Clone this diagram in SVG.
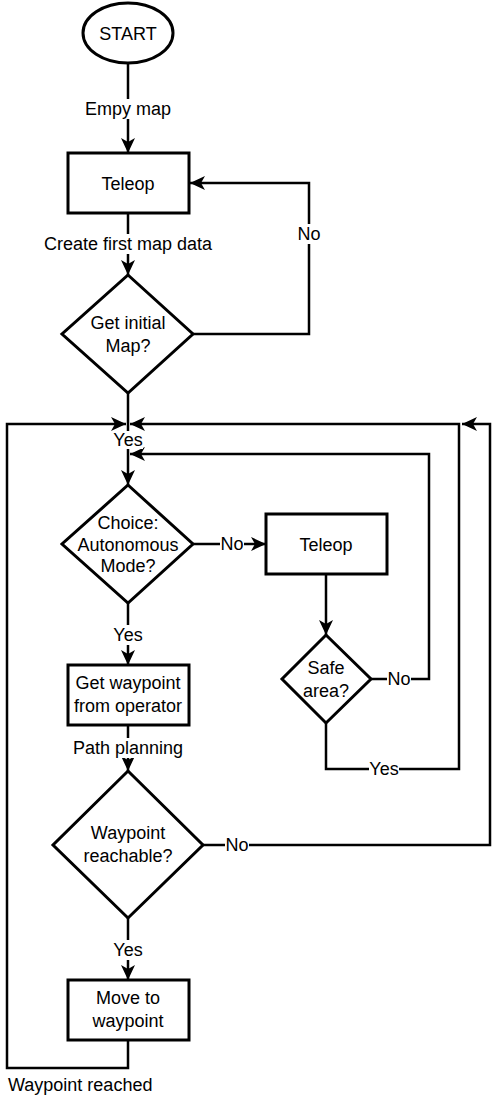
<svg xmlns="http://www.w3.org/2000/svg" width="498" height="1097" viewBox="0 0 498 1097">
<style>
.s{fill:#fff;stroke:#000;stroke-width:3}
.e{fill:none;stroke:#000;stroke-width:2.5}
.t{font-family:"Liberation Sans",Arial,sans-serif;font-size:18px;fill:#000;text-anchor:middle}
.bg{fill:#fff}
</style>
<defs>
<marker id="a" markerUnits="userSpaceOnUse" markerWidth="16" markerHeight="16" refX="15" refY="8" orient="auto">
<path d="M0,1 L15,8 L0,15 L4,8 Z" fill="#000"/>
</marker>
</defs>
<rect width="498" height="1097" fill="#fff"/>
<g id="connectors">
<path class="e" d="M128,63 V153" marker-end="url(#a)"/>
<path class="e" d="M128,213 V275" marker-end="url(#a)"/>
<path class="e" d="M193,334 H309 V183 H190" marker-end="url(#a)"/>
<path class="e" d="M128,393 V485" marker-end="url(#a)"/>
<path class="e" d="M193,544 H266" marker-end="url(#a)"/>
<path class="e" d="M326,574 V635" marker-end="url(#a)"/>
<path class="e" d="M371,679 H429 V454 H130" marker-end="url(#a)"/>
<path class="e" d="M326,723 V769 H459 V424 H130" marker-end="url(#a)"/>
<path class="e" d="M203,845 H490 V424 H462" marker-end="url(#a)"/>
<path class="e" d="M128,603 V665" marker-end="url(#a)"/>
<path class="e" d="M128,725 V771" marker-end="url(#a)"/>
<path class="e" d="M128,918 V980" marker-end="url(#a)"/>
<path class="e" d="M128,1040 V1068 H7 V424 H126" marker-end="url(#a)"/>
<g id="labels">
<rect class="bg" x="85" y="99" width="86" height="20"/>
<text class="t" x="128" y="115">Empy map</text>
<rect class="bg" x="43" y="234" width="171" height="20"/>
<text class="t" x="128" y="250">Create first map data</text>
<rect class="bg" x="297" y="224" width="24" height="20"/>
<text class="t" x="309" y="240">No</text>
<rect class="bg" x="113" y="431" width="30" height="18"/>
<text class="t" x="128" y="446">Yes</text>
<rect class="bg" x="220" y="535" width="24" height="18"/>
<text class="t" x="232" y="550">No</text>
<rect class="bg" x="387" y="670" width="24" height="18"/>
<text class="t" x="399" y="685">No</text>
<rect class="bg" x="369" y="760" width="30" height="18"/>
<text class="t" x="384" y="775">Yes</text>
<rect class="bg" x="113" y="625" width="30" height="20"/>
<text class="t" x="128" y="641">Yes</text>
<rect class="bg" x="72" y="738" width="112" height="20"/>
<text class="t" x="128" y="754">Path planning</text>
<rect class="bg" x="225" y="836" width="24" height="18"/>
<text class="t" x="237" y="851">No</text>
<rect class="bg" x="113" y="940" width="30" height="20"/>
<text class="t" x="128" y="956">Yes</text>
<text class="t" x="8" y="1091" style="text-anchor:start">Waypoint reached</text>
</g>
</g>
<g id="start">
<ellipse class="s" cx="128" cy="33" rx="45" ry="30"/>
<text class="t" x="128" y="40">START</text>
</g>
<g id="teleop1">
<rect class="s" x="68" y="153" width="121" height="60"/>
<text class="t" x="128" y="190">Teleop</text>
</g>
<g id="initialmap">
<path class="s" d="M128,275 L193,334 L128,393 L62,334 Z"/>
<text class="t" x="128" y="329">Get initial</text>
<text class="t" x="128" y="352">Map?</text>
</g>
<g id="choice">
<path class="s" d="M128,485 L193,544 L128,603 L62,544 Z"/>
<text class="t" x="128" y="529">Choice:</text>
<text class="t" x="128" y="551">Autonomous</text>
<text class="t" x="128" y="572">Mode?</text>
</g>
<g id="teleop2">
<rect class="s" x="266" y="514" width="121" height="60"/>
<text class="t" x="326" y="551">Teleop</text>
</g>
<g id="safearea">
<path class="s" d="M326,635 L371,679 L326,723 L282,679 Z"/>
<text class="t" x="326" y="674">Safe</text>
<text class="t" x="326" y="697">area?</text>
</g>
<g id="getwaypoint">
<rect class="s" x="68" y="665" width="121" height="60"/>
<text class="t" x="128" y="689">Get waypoint</text>
<text class="t" x="128" y="712">from operator</text>
</g>
<g id="reachable">
<path class="s" d="M128,771 L203,845 L128,918 L53,845 Z"/>
<text class="t" x="128" y="839">Waypoint</text>
<text class="t" x="128" y="862">reachable?</text>
</g>
<g id="move">
<rect class="s" x="68" y="980" width="121" height="60"/>
<text class="t" x="128" y="1004">Move to</text>
<text class="t" x="128" y="1027">waypoint</text>
</g>
</svg>
